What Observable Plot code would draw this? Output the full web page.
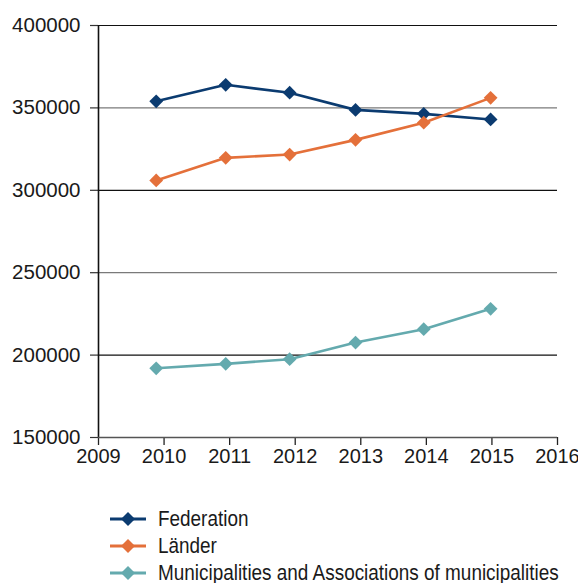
<!DOCTYPE html>
<html><head><meta charset="utf-8">
<script src="https://cdn.jsdelivr.net/npm/d3@7"></script>
<script src="https://cdn.jsdelivr.net/npm/@observablehq/plot@0.6"></script>
<style>
body{margin:0;background:#fff;font-family:"Liberation Sans",Arial,sans-serif;overflow:hidden;}
#legend{margin-top:30px;}
.row{display:flex;align-items:center;height:27px;color:#1a1a1a;white-space:nowrap;}
.row svg{margin-left:110px;margin-right:12px;flex:none;}
.row span{display:inline-block;font-size:22px;transform:scaleX(0.86);transform-origin:left center;}
</style>
</head><body>
<div id="chart"></div>
<div id="legend"></div>
<script>
// data
const years = [2010, 2011, 2012, 2013, 2014, 2015];
const xPositions = [2009.88, 2010.94, 2011.915, 2012.92, 2013.96, 2014.98];
const federation = [354000, 364000, 359200, 348800, 346400, 343000];
const laender = [306000, 319700, 321700, 330600, 341000, 356100];
const municipalities = [192000, 194700, 197500, 207600, 215700, 228100];
const seriesNames = ["Federation", "Länder", "Municipalities and Associations of municipalities"];
const seriesColors = ["#0b3b70", "#e4703a", "#64aaae"];
const yTicks = [150000, 200000, 250000, 300000, 350000, 400000];
const xTicks = [2009, 2010, 2011, 2012, 2013, 2014, 2015, 2016];

const rows = [];
[federation, laender, municipalities].forEach((vals, i) =>
  vals.forEach((v, j) => rows.push({series: seriesNames[i], year: years[j], x: xPositions[j], value: v})));

const darkGrid = yTicks.filter(t => t > 150000 && (t / 50000) % 2 === 0);
const lightGrid = yTicks.filter(t => t > 150000 && (t / 50000) % 2 === 1);

const chart = Plot.plot({
  width: 578, height: 475,
  marginLeft: 98, marginRight: 21, marginTop: 25, marginBottom: 38,
  style: {fontFamily: '"Liberation Sans",Arial,sans-serif', color: "#1a1a1a", background: "#fff", overflow: "visible"},
  x: {domain: [2009, 2016], axis: null},
  y: {domain: [150000, 400000], axis: null},
  color: {domain: seriesNames, range: seriesColors},
  marks: [
    Plot.ruleY(lightGrid, {stroke: "#7a7a7a", strokeWidth: 1.3}),
    Plot.ruleY(darkGrid, {stroke: "#111", strokeWidth: 1.2}),
    Plot.axisX({ticks: xTicks, tickFormat: d => String(d), label: null, tickSize: 8, tickPadding: 3, fontSize: 20, stroke: "#222", strokeWidth: 1.3}),
    Plot.axisY({ticks: yTicks, tickFormat: d => String(d), label: null, tickSize: 8, tickPadding: 10, fontSize: 20.5, stroke: "#333", strokeWidth: 1.2}),
    Plot.ruleX([2009], {stroke: "#111", strokeWidth: 1.6}),
    Plot.ruleY([150000], {stroke: "#555", strokeWidth: 1.6}),
    Plot.line(rows, {x: "x", y: "value", z: "series", stroke: "series", strokeWidth: 2.6}),
    Plot.dot(rows, {x: "x", y: "value", fill: "series", symbol: "diamond2", r: 6.2, stroke: "none"})
  ]
});
document.getElementById("chart").appendChild(chart);

const legend = document.getElementById("legend");
seriesNames.forEach((name, i) => {
  const row = document.createElement("div");
  row.className = "row";
  row.innerHTML = `<svg width="36" height="16"><line x1="0" y1="8" x2="36" y2="8" stroke="${seriesColors[i]}" stroke-width="3"/><path d="M18,1 L25,8 L18,15 L11,8 Z" fill="${seriesColors[i]}"/></svg><span>${name}</span>`;
  legend.appendChild(row);
});
</script>
</body></html>
